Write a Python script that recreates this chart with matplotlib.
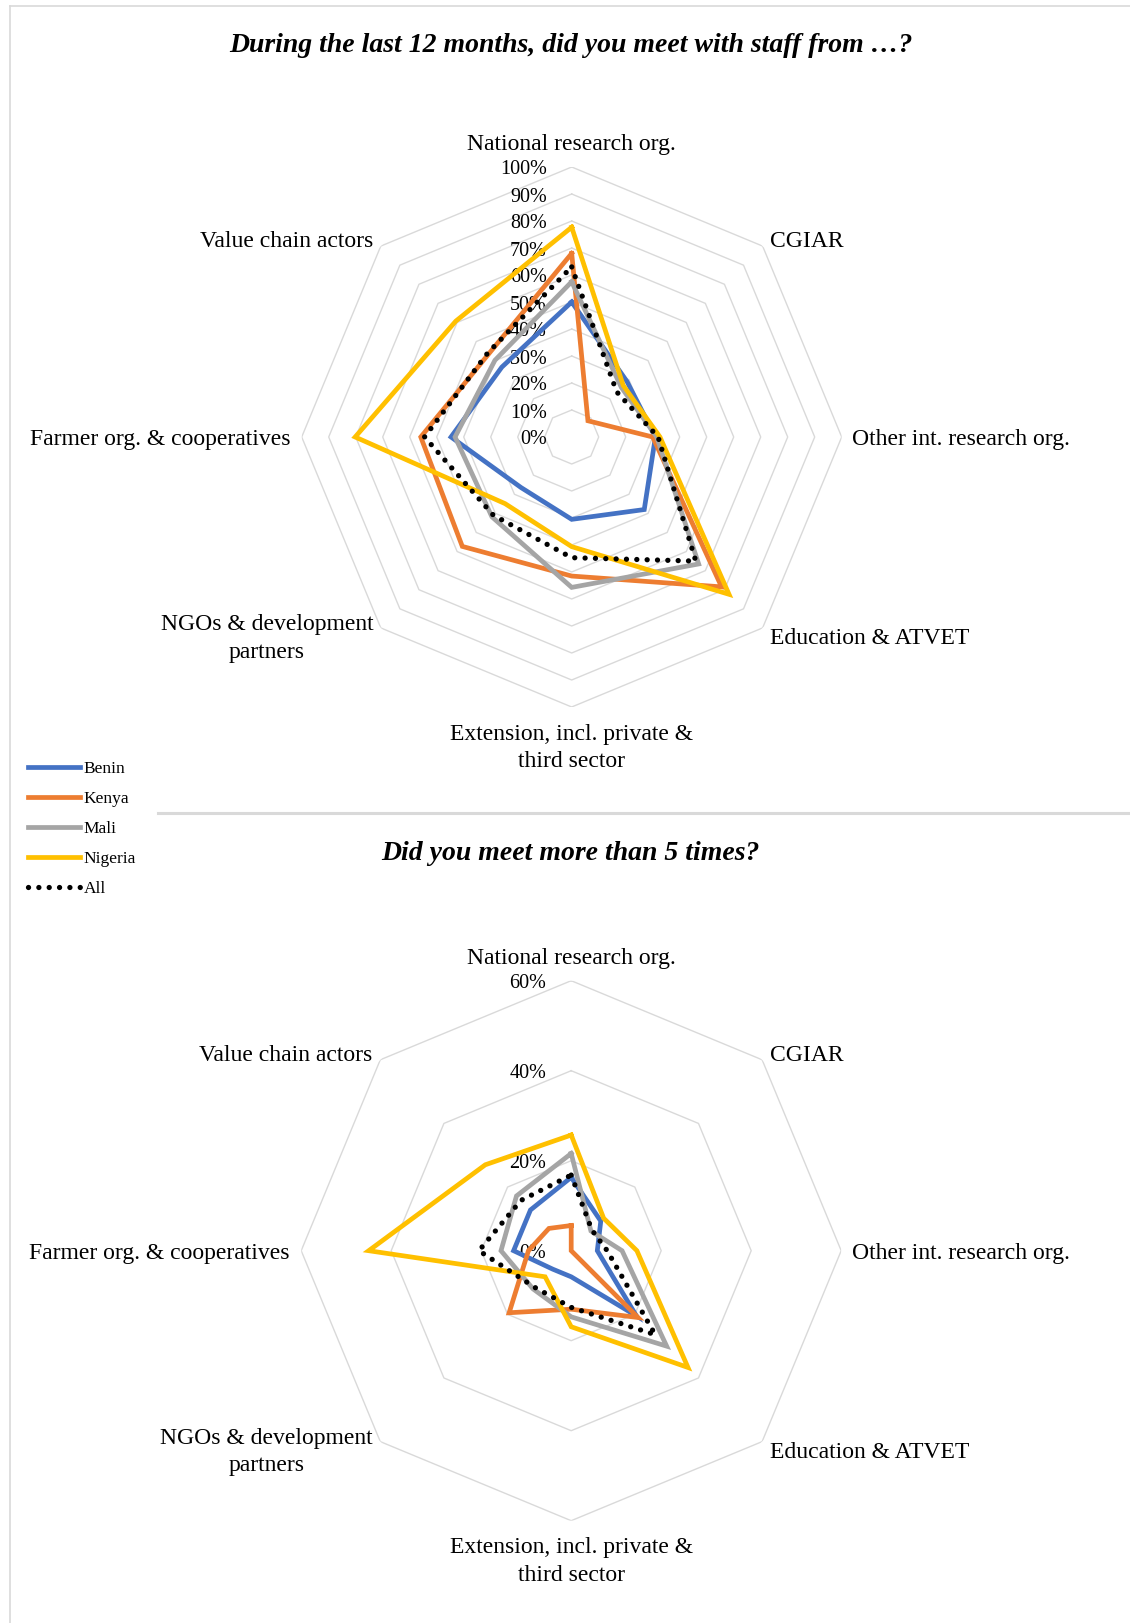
import numpy as np
import matplotlib
matplotlib.use("Agg")
import matplotlib.pyplot as plt
from matplotlib.lines import Line2D

CATEGORIES = [
    "National research org.",
    "CGIAR",
    "Other int. research org.",
    "Education & ATVET",
    "Extension, incl. private &\nthird sector",
    "NGOs & development\npartners",
    "Farmer org. & cooperatives",
    "Value chain actors",
]
SERIES = ["Benin", "Kenya", "Mali", "Nigeria", "All"]

# During the last 12 months, did you meet with staff from ...? (%)
BENIN_MET = [50, 29, 31, 38, 30.5, 26.5, 44.7, 36.6]
KENYA_MET = [68, 8.5, 30, 78.5, 51.5, 57.3, 55.9, 43.5]
MALI_MET = [57.5, 26, 31.5, 66.5, 55.7, 41.8, 43.2, 40.2]
NIGERIA_MET = [77.7, 27, 32.7, 82.4, 40.6, 34.9, 80.2, 60.7]
ALL_MET = [63, 23.6, 32, 65, 44.7, 41, 54.5, 44]
TICKS_MET = [0, 10, 20, 30, 40, 50, 60, 70, 80, 90, 100]

# Did you meet more than 5 times? (%)
BENIN_5X = [16.3, 9.3, 5.8, 20.5, 5.8, 5.8, 12.8, 12.8]
KENYA_5X = [5.6, 0, 0, 21, 13, 19.5, 9.5, 7]
MALI_5X = [21.6, 6.2, 11.3, 30, 14.7, 12, 15.6, 17.2]
NIGERIA_5X = [25.7, 10.2, 14.6, 36.7, 16.9, 8.2, 45, 27]
ALL_5X = [16.8, 6.5, 8, 26.4, 12.6, 11.5, 20.5, 15.8]
TICKS_5X = [0, 20, 40, 60]

COLORS = {"Benin": "#4472C4", "Kenya": "#ED7D31", "Mali": "#A5A5A5",
          "Nigeria": "#FFC000", "All": "#000000"}
GRID = "#D9D9D9"
TEXT = "#000000"
FONT = "Liberation Serif"

W, H = 1130, 1623

# label placement: (radius as fraction of rmax, ha)
LABEL_POS = [(1.093, "center"), (1.04, "left"), (1.04, "left"), (1.04, "left"),
             (1.14, "center"), (1.04, "right"), (1.043, "right"), (1.04, "right")]


def draw_radar(fig, rect, series_values, ticks):
    ax = fig.add_axes(rect, projection="polar")
    ax.set_theta_zero_location("N")
    ax.set_theta_direction(-1)
    rmax = ticks[-1]
    ax.set_ylim(0, rmax)
    ax.grid(False)
    ax.spines["polar"].set_visible(False)
    ax.set_xticks([])
    ax.set_yticks([])
    ax.patch.set_alpha(0)

    n = len(CATEGORIES)
    theta = np.linspace(0, 2 * np.pi, n, endpoint=False)
    theta_c = np.append(theta, theta[0])

    for level in ticks[1:]:
        ax.plot(theta_c, [level] * (n + 1), color=GRID, lw=1.0, zorder=1)
    for level in ticks:
        ax.annotate(f"{level}%", xy=(0, level), xytext=(-25, -3),
                    textcoords="offset pixels", ha="right", va="center",
                    fontsize=14.5, family=FONT, color=TEXT, zorder=2)

    handles = []
    for name, vals in zip(SERIES, series_values):
        v = np.append(vals, vals[0])
        if name == "All":
            line, = ax.plot(theta_c, v, color=COLORS[name], lw=3.8,
                            linestyle=(0, (0.01, 1.95)), dash_capstyle="round",
                            zorder=4, label=name)
        else:
            line, = ax.plot(theta_c, v, color=COLORS[name], lw=3.4,
                            solid_joinstyle="miter", zorder=3, label=name)
        handles.append(line)

    for t, label, (rf, ha) in zip(theta, CATEGORIES, LABEL_POS):
        ax.annotate(label, xy=(t, rf * rmax), xytext=(0, -3), textcoords="offset pixels",
                    ha=ha, va="center", multialignment="center", linespacing=1.4,
                    fontsize=17, family=FONT, color=TEXT, annotation_clip=False)
    return ax, handles


fig = plt.figure(figsize=(W / 100, H / 100), dpi=100)
fig.patch.set_facecolor("white")

size = 540
top_rect = [(571.7 - 270) / W, 1 - (437 + 270) / H, size / W, size / H]
bot_rect = [(571.2 - 270) / W, 1 - (1250.7 + 270) / H, size / W, size / H]

ax1, handles = draw_radar(fig, top_rect,
                          [BENIN_MET, KENYA_MET, MALI_MET, NIGERIA_MET, ALL_MET],
                          TICKS_MET)
ax2, _ = draw_radar(fig, bot_rect,
                    [BENIN_5X, KENYA_5X, MALI_5X, NIGERIA_5X, ALL_5X],
                    TICKS_5X)

fig.text(571 / W, 1 - 45.5 / H, "During the last 12 months, did you meet with staff from …?",
         ha="center", va="center", fontsize=20, family=FONT, style="italic",
         weight="bold", color=TEXT)
fig.text(570 / W, 1 - 854 / H, "Did you meet more than 5 times?",
         ha="center", va="center", fontsize=20, family=FONT, style="italic",
         weight="bold", color=TEXT)

fig.legend(handles, SERIES, loc="upper left", bbox_to_anchor=(28 / W, 1 - 761 / H),
           frameon=False, borderpad=0, borderaxespad=0, handlelength=3.0,
           handletextpad=0.2, labelspacing=0.8,
           prop={"family": FONT, "size": 12.5})

# frame lines of the document boxes
fig.add_artist(Line2D([10 / W, 1], [1 - 6 / H, 1 - 6 / H], transform=fig.transFigure,
                      color=GRID, lw=1.2))
fig.add_artist(Line2D([10.4 / W, 10.4 / W], [0, 1 - 6 / H], transform=fig.transFigure,
                      color=GRID, lw=1.2))
fig.add_artist(Line2D([158 / W, 1], [1 - 812.5 / H, 1 - 812.5 / H],
                      transform=fig.transFigure, color=GRID, lw=2.2))

fig.savefig("out.png", dpi=100, facecolor="white")
